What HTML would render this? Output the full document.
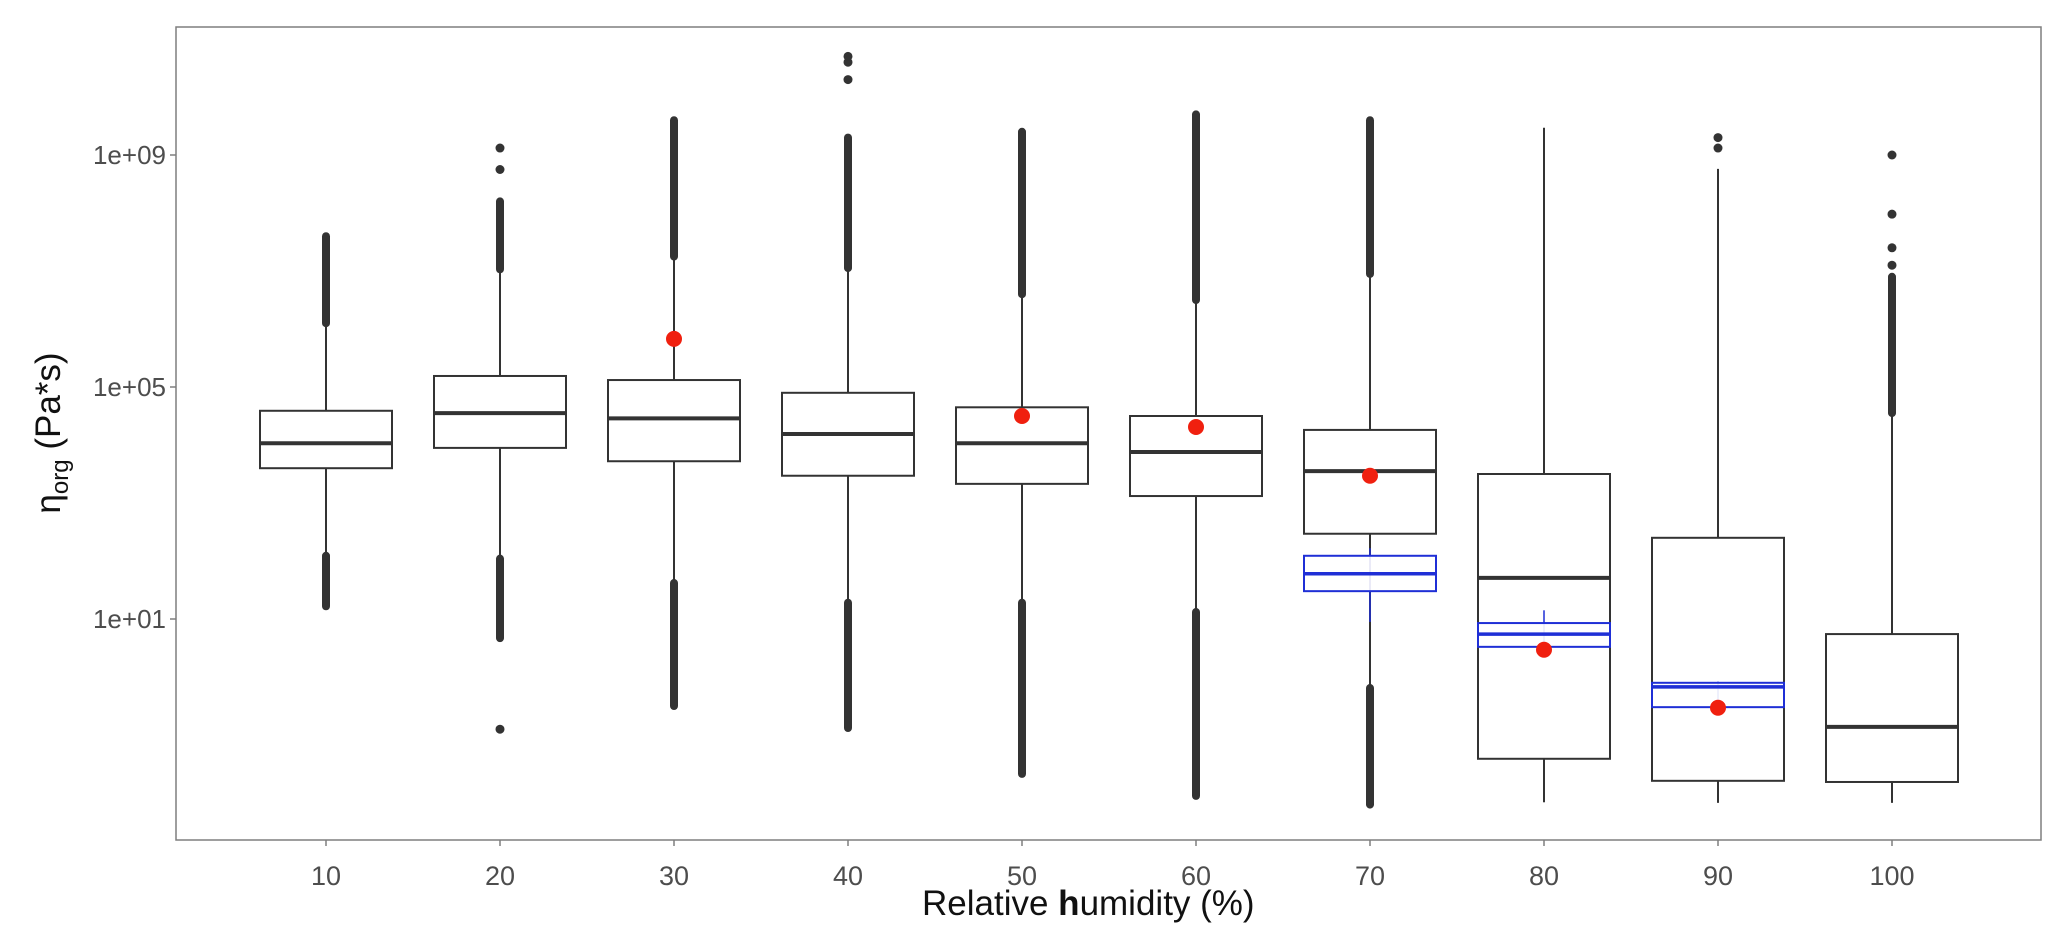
<!DOCTYPE html>
<html><head><meta charset="utf-8"><style>
html,body{margin:0;padding:0;background:#fff;}
svg{display:block;font-family:"Liberation Sans",Arial,sans-serif;}
</style></head><body>
<svg id="chart" width="2067" height="947" viewBox="0 0 2067 947" xmlns="http://www.w3.org/2000/svg">
<rect x="0" y="0" width="2067" height="947" fill="#fff"/>
<rect x="176" y="27" width="1865" height="813" fill="#fff" stroke="#7f7f7f" stroke-width="1.5"/>
<g id="marks"></g>
<g id="axes"></g>
<text x="922" y="915" font-size="35" fill="#111">Relative  <tspan font-weight="bold">h</tspan>umidity (%)</text>
<text transform="translate(60,433) rotate(-90)" text-anchor="middle" font-size="35" fill="#111">η<tspan font-size="24" dy="8">org</tspan><tspan dy="-8"> (Pa*s)</tspan></text>
</svg>
<script>
// data (log10 of viscosity)
const categories = [10,20,30,40,50,60,70,80,90,100];
const q1 = [3.60,3.95,3.72,3.47,3.33,3.12,2.47,-1.41,-1.79,-1.81];
const median = [4.03,4.55,4.46,4.19,4.03,3.88,3.55,1.71,-0.17,-0.86];
const q3 = [4.59,5.19,5.12,4.90,4.65,4.50,4.26,3.50,2.40,0.74];
const whiskerLow = [2.14,2.09,1.67,1.33,1.33,1.17,-0.14,-2.16,-2.17,-2.17];
const whiskerHigh = [6.05,6.98,7.2,7.0,6.55,6.45,6.9,9.47,8.76,4.5];
const upperOutlierMax = [7.6,8.2,9.6,9.3,9.4,9.7,9.6,null,null,6.9];
const lowerOutlierMin = [1.22,0.67,-0.5,-0.88,-1.67,-2.05,-2.2,null,null,null];
const extraPoints = [[],[-0.9,9.12,8.75],[],[10.6,10.7,10.3],[],[],[],[],[9.3,9.12],[9.0,7.98,7.1,7.4]];
const means = [null,null,5.83,null,4.5,4.31,3.47,0.47,-0.53,null];
const blueCats = [70,80,90];
const blueQ1 = [1.48,0.52,-0.52];
const blueMedian = [1.78,0.74,-0.17];
const blueQ3 = [2.09,0.93,-0.10];
const blueLow = [0.95,0.35,-0.62];
const blueHigh = [2.22,1.15,-0.08];
const yTicks = [1,5,9];
const yTickLabels = ["1e+01","1e+05","1e+09"];

const NS="http://www.w3.org/2000/svg";
const xScale = c => 326 + (c-10)/10*174;
const yScale = L => 619 - 58*(L-1);
const BW = 132;
const marks=document.getElementById('marks');
const axes=document.getElementById('axes');
function mk(tag,attrs,parent){const e=document.createElementNS(NS,tag);for(const k in attrs)e.setAttribute(k,attrs[k]);parent.appendChild(e);return e;}

categories.forEach((c,i)=>{
  const x=xScale(c);
  const g=mk('g',{},marks);
  
  
  let w=mk('line',{x1:x,x2:x,y1:yScale(whiskerHigh[i]),y2:yScale(q3[i]),stroke:'#333','stroke-width':2},g);
  
  
  w=mk('line',{x1:x,x2:x,y1:yScale(q1[i]),y2:yScale(whiskerLow[i]),stroke:'#333','stroke-width':2},g);
  
  
  const b=mk('rect',{x:x-BW/2,y:yScale(q3[i]),width:BW,height:yScale(q1[i])-yScale(q3[i]),fill:'#fff',stroke:'#333','stroke-width':2},g);
  
  
  const m=mk('line',{x1:x-BW/2,x2:x+BW/2,y1:yScale(median[i]),y2:yScale(median[i]),stroke:'#333','stroke-width':4},g);
  
  
  if(upperOutlierMax[i]!==null){
    const o=mk('line',{x1:x,x2:x,y1:yScale(upperOutlierMax[i]),y2:yScale(whiskerHigh[i]+0.05),stroke:'#333','stroke-width':8,'stroke-linecap':'round'},g);
    
    
  }
  if(lowerOutlierMin[i]!==null){
    const o=mk('line',{x1:x,x2:x,y1:yScale(whiskerLow[i]-0.05),y2:yScale(lowerOutlierMin[i]),stroke:'#333','stroke-width':8,'stroke-linecap':'round'},g);
    
    
  }
  extraPoints[i].forEach(v=>{
    const p=mk('circle',{cx:x,cy:yScale(v),r:4.5,fill:'#333'},g);
    
    
  });
});
blueCats.forEach((c,i)=>{
  const x=xScale(c);
  const g=mk('g',{},marks);
  
  
  let w=mk('line',{x1:x,x2:x,y1:yScale(blueHigh[i]),y2:yScale(blueLow[i]),stroke:'#1f2fd6','stroke-width':1.5},g);
  
  
  const b=mk('rect',{x:x-BW/2,y:yScale(blueQ3[i]),width:BW,height:yScale(blueQ1[i])-yScale(blueQ3[i]),fill:'#fff','fill-opacity':0.9,stroke:'#1f2fd6','stroke-width':2},g);
  
  
  const m=mk('line',{x1:x-BW/2,x2:x+BW/2,y1:yScale(blueMedian[i]),y2:yScale(blueMedian[i]),stroke:'#1f2fd6','stroke-width':3.5},g);
  
  
});
categories.forEach((c,i)=>{
  if(means[i]===null)return;
  const p=mk('circle',{cx:xScale(c),cy:yScale(means[i]),r:8,fill:'#f0200f'},marks);
  
  
});
yTicks.forEach((t,i)=>{
  const y=yScale(t);
  const l=mk('line',{x1:170,x2:176,y1:y,y2:y,stroke:'#7f7f7f','stroke-width':1.5},axes);
  
  
  const tx=mk('text',{x:166,y:y+9,'text-anchor':'end','font-size':26,fill:'#4d4d4d'},axes);
  tx.textContent=yTickLabels[i];
  
  
});
categories.forEach(c=>{
  const x=xScale(c);
  const l=mk('line',{x1:x,x2:x,y1:840,y2:846,stroke:'#7f7f7f','stroke-width':1.5},axes);
  
  
  const tx=mk('text',{x:x,y:885,'text-anchor':'middle','font-size':27,fill:'#4d4d4d'},axes);
  tx.textContent=String(c);
  
  
});
</script>
</body></html>
